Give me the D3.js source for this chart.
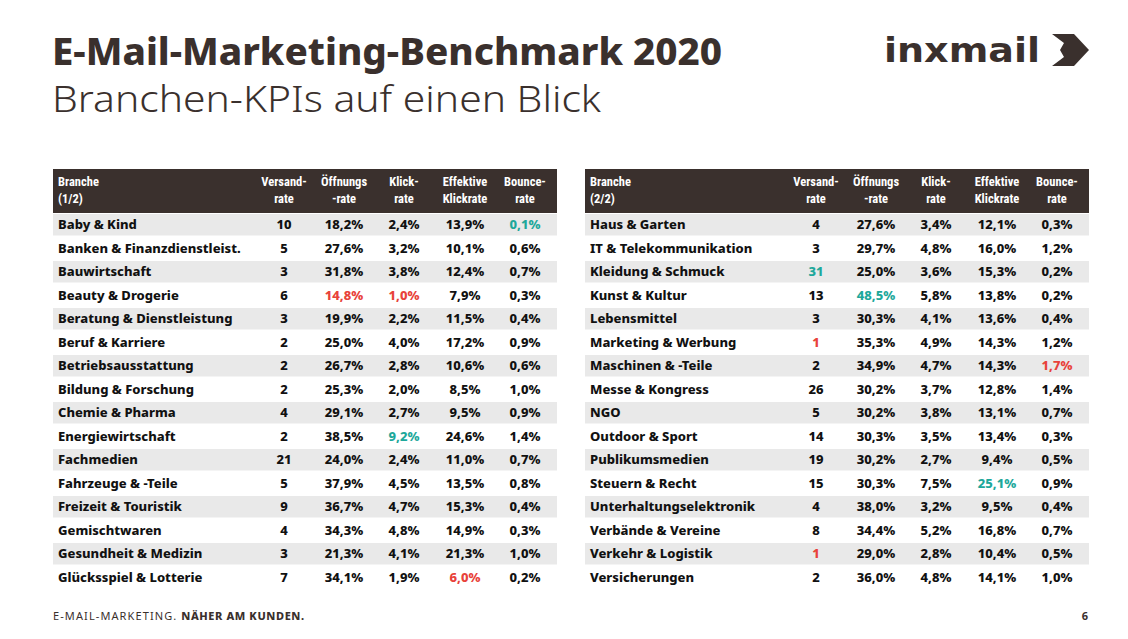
<!DOCTYPE html>
<html><head><meta charset="utf-8">
<script src="https://cdn.jsdelivr.net/npm/d3@7"></script>
<style>body{margin:0;background:#fff}</style></head>
<body><svg id="c" width="1128" height="639"></svg>
<script>
const headers = [["Branche","(1/2)"],["Versand-","rate"],["Öffnungs","-rate"],["Klick-","rate"],["Effektive","Klickrate"],["Bounce-","rate"]];
const branchen1 = ["Baby & Kind","Banken & Finanzdienstleist.","Bauwirtschaft","Beauty & Drogerie","Beratung & Dienstleistung","Beruf & Karriere","Betriebsausstattung","Bildung & Forschung","Chemie & Pharma","Energiewirtschaft","Fachmedien","Fahrzeuge & -Teile","Freizeit & Touristik","Gemischtwaren","Gesundheit & Medizin","Glücksspiel & Lotterie"];
const versand1 = [10,5,3,6,3,2,2,2,4,2,21,5,9,4,3,7];
const oeffnung1 = ["18,2%","27,6%","31,8%","14,8%","19,9%","25,0%","26,7%","25,3%","29,1%","38,5%","24,0%","37,9%","36,7%","34,3%","21,3%","34,1%"];
const klick1 = ["2,4%","3,2%","3,8%","1,0%","2,2%","4,0%","2,8%","2,0%","2,7%","9,2%","2,4%","4,5%","4,7%","4,8%","4,1%","1,9%"];
const effektiv1 = ["13,9%","10,1%","12,4%","7,9%","11,5%","17,2%","10,6%","8,5%","9,5%","24,6%","11,0%","13,5%","15,3%","14,9%","21,3%","6,0%"];
const bounce1 = ["0,1%","0,6%","0,7%","0,3%","0,4%","0,9%","0,6%","1,0%","0,9%","1,4%","0,7%","0,8%","0,4%","0,3%","1,0%","0,2%"];
const branchen2 = ["Haus & Garten","IT & Telekommunikation","Kleidung & Schmuck","Kunst & Kultur","Lebensmittel","Marketing & Werbung","Maschinen & -Teile","Messe & Kongress","NGO","Outdoor & Sport","Publikumsmedien","Steuern & Recht","Unterhaltungselektronik","Verbände & Vereine","Verkehr & Logistik","Versicherungen"];
const versand2 = [4,3,31,13,3,1,2,26,5,14,19,15,4,8,1,2];
const oeffnung2 = ["27,6%","29,7%","25,0%","48,5%","30,3%","35,3%","34,9%","30,2%","30,2%","30,3%","30,2%","30,3%","38,0%","34,4%","29,0%","36,0%"];
const klick2 = ["3,4%","4,8%","3,6%","5,8%","4,1%","4,9%","4,7%","3,7%","3,8%","3,5%","2,7%","7,5%","3,2%","5,2%","2,8%","4,8%"];
const effektiv2 = ["12,1%","16,0%","15,3%","13,8%","13,6%","14,3%","14,3%","12,8%","13,1%","13,4%","9,4%","25,1%","9,5%","16,8%","10,4%","14,1%"];
const bounce2 = ["0,3%","1,2%","0,2%","0,2%","0,4%","1,2%","1,7%","1,4%","0,7%","0,3%","0,5%","0,9%","0,4%","0,7%","0,5%","1,0%"];
// highlighted cells: "branche|column index" -> best / worst
const best = ["Baby & Kind|5","Energiewirtschaft|3","Kleidung & Schmuck|1","Kunst & Kultur|2","Steuern & Recht|4"];
const worst = ["Beauty & Drogerie|2","Beauty & Drogerie|3","Glücksspiel & Lotterie|4","Marketing & Werbung|1","Maschinen & -Teile|5","Verkehr & Logistik|1"];

const svg = d3.select("#c");
const dark="#3a302d", red="#e8423a", teal="#1ea89b";
const cond = "'Liberation Sans Narrow','Roboto Condensed','Arial Narrow',sans-serif";
svg.append("text").attr("x",52).attr("y",65).attr("font-family","'Noto Sans',sans-serif").attr("font-weight",800).attr("font-size",37).attr("fill",dark)
  .attr("textLength",670).attr("lengthAdjust","spacingAndGlyphs").text("E-Mail-Marketing-Benchmark 2020");
svg.append("text").attr("x",52).attr("y",112).attr("font-family","'Noto Sans',sans-serif").attr("font-weight",300).attr("font-size",37).attr("fill",dark)
  .attr("textLength",549).attr("lengthAdjust","spacingAndGlyphs").text("Branchen-KPIs auf einen Blick");
// logo
svg.append("text").attr("x",884).attr("y",62).attr("font-family","'DejaVu Sans',sans-serif").attr("font-weight",900).attr("font-size",33)
  .attr("textLength",156).attr("lengthAdjust","spacingAndGlyphs").attr("fill",dark).text("inxmail");
svg.append("path").attr("d","M1052,34 L1074,34 L1089,50 L1074,66 L1052,66 L1064,57 L1060,50 L1064,43 Z").attr("fill",dark);

function table(x0, names, cols, label){
  const W=504, top=169, hh=44;
  const y = d3.scaleBand().domain(d3.range(names.length)).range([top+hh, top+hh+names.length*23.5]);
  const cx = d3.scaleOrdinal().domain([1,2,3,4,5]).range([231,291,351,412,472].map(v=>v+x0));
  const g=svg.append("g");
  g.append("rect").attr("x",x0).attr("y",top).attr("width",W).attr("height",hh).attr("fill",dark);
  headers.forEach((h,i)=>{
    const t=g.append("text").attr("font-family",cond).attr("font-weight",700).attr("font-size",12.5).attr("fill","#fff")
      .attr("x",i==0?x0+5:cx(i)).attr("text-anchor",i==0?"start":"middle");
    t.append("tspan").attr("x",i==0?x0+5:cx(i)).attr("y",top+17).text(h[0]);
    t.append("tspan").attr("x",i==0?x0+5:cx(i)).attr("y",top+34).text(i==0?label:h[1]);
  });
  names.forEach((n,r)=>{
    g.append("rect").attr("x",x0).attr("y",y(r)+1).attr("width",W).attr("height",y.bandwidth()-2).attr("fill",r%2==0?"#e9e9e9":"#fff");
    g.append("text").attr("x",x0+5).attr("y",y(r)+y.bandwidth()/2+4.5).attr("font-family","'Noto Sans',sans-serif").attr("font-weight",800).attr("font-size",13).attr("fill","#111").text(n);
    cols.forEach((c,ci)=>{
      const key=n+"|"+(ci+1);
      g.append("text").attr("x",cx(ci+1)).attr("y",y(r)+y.bandwidth()/2+4.5).attr("text-anchor","middle")
        .attr("font-family","'Noto Sans',sans-serif").attr("font-weight",800).attr("font-size",13)
        .attr("fill",best.includes(key)?teal:worst.includes(key)?red:"#111").text(c[r]);
    });
  });
}
table(53, branchen1, [versand1,oeffnung1,klick1,effektiv1,bounce1], "(1/2)");
table(585, branchen2, [versand2,oeffnung2,klick2,effektiv2,bounce2], "(2/2)");

const f=svg.append("text").attr("x",53).attr("y",620).attr("font-family","'Noto Sans',sans-serif").attr("font-size",11).attr("letter-spacing",1.1).attr("fill",dark);
f.append("tspan").text("E-MAIL-MARKETING. ");
f.append("tspan").attr("font-weight",800).attr("letter-spacing",0.6).text("NÄHER AM KUNDEN.");
svg.append("text").attr("x",1088).attr("y",620).attr("text-anchor","end").attr("font-family","'Noto Sans',sans-serif").attr("font-weight",700).attr("font-size",11).attr("fill",dark).text("6");
</script></body></html>
